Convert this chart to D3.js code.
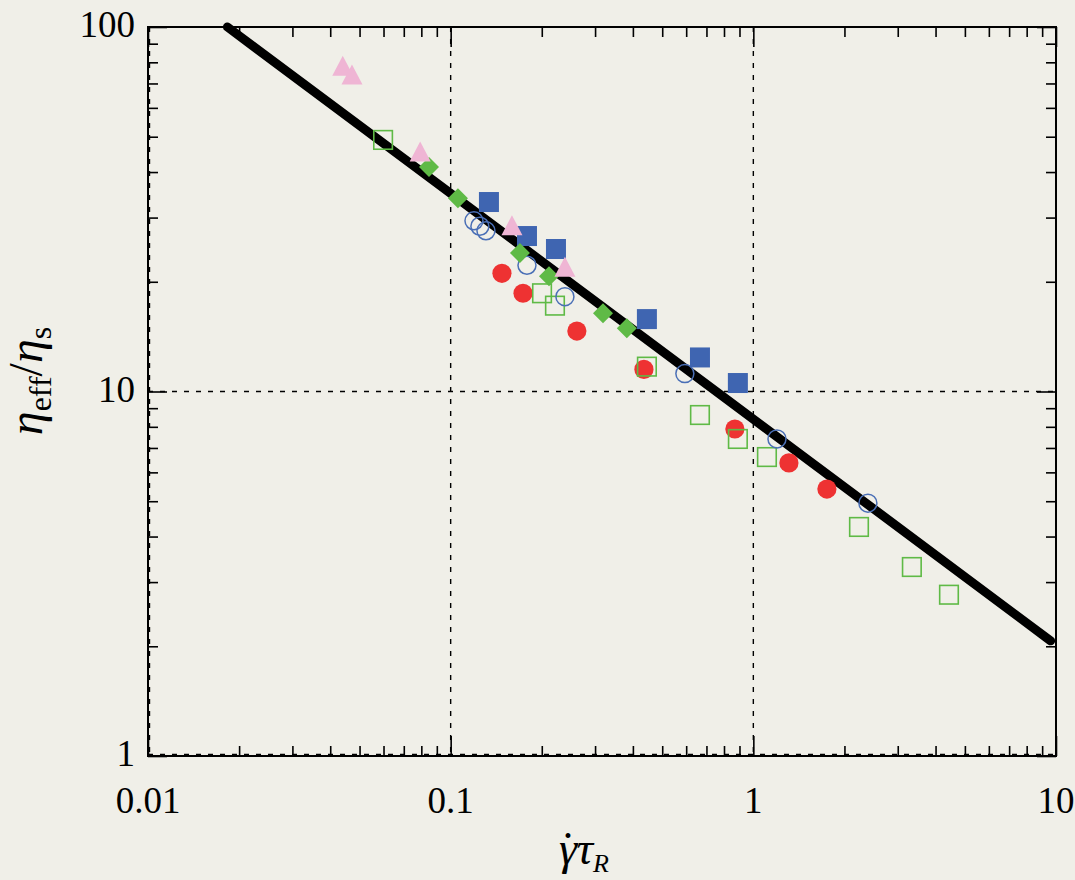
<!DOCTYPE html>
<html>
<head>
<meta charset="utf-8">
<script src="https://cdn.jsdelivr.net/npm/d3@7"></script>
<style>
html,body{margin:0;padding:0;background:#f0efe8;}
svg{display:block;}
text{font-family:"Liberation Serif","Times New Roman",serif;fill:#000;}
</style>
</head>
<body>
<svg id="chart" width="1075" height="880"></svg>
<script>
// ---- data ----
const xTicks = [0.01, 0.1, 1, 10];
const xTickLabels = ["0.01", "0.1", "1", "10"];
const yTicks = [1, 10, 100];
const yTickLabels = ["1", "10", "100"];

const fitX = [0.0183, 9.6];
const fitY = [100, 2.07];

const triX = [0.0440, 0.0472, 0.0793, 0.1594, 0.2385];
const triY = [77.6, 73.4, 45.1, 28.3, 21.8];

const diaX = [0.0848, 0.1057, 0.1694, 0.2113, 0.3186, 0.3820];
const diaY = [41.3, 33.9, 24.0, 20.7, 16.4, 14.9];

const bsqX = [0.1338, 0.1787, 0.2228, 0.445, 0.6663, 0.889];
const bsqY = [33.1, 26.7, 24.6, 15.8, 12.4, 10.55];

const ocX = [0.1194, 0.1249, 0.1308, 0.1787, 0.2385, 0.594, 1.197, 2.391];
const ocY = [29.4, 28.4, 27.6, 22.2, 18.2, 11.2, 7.41, 4.94];

const redX = [0.1477, 0.1734, 0.2612, 0.435, 0.869, 1.311, 1.75];
const redY = [21.1, 18.6, 14.65, 11.5, 7.89, 6.37, 5.40];

const gsqX = [0.0598, 0.2004, 0.2211, 0.445, 0.6663, 0.889, 1.109, 2.234, 3.34, 4.43];
const gsqY = [49.0, 18.6, 17.2, 11.7, 8.62, 7.41, 6.61, 4.25, 3.30, 2.77];

// ---- layout ----
const svg = d3.select("#chart");
const pL = 148, pR = 1056, pT = 27, pB = 756;
const x = d3.scaleLog().domain([0.01, 10]).range([pL, pR]);
const y = d3.scaleLog().domain([1, 100]).range([pB, pT]);

const zip = (a, b) => a.map((v, i) => [v, b[i]]);

svg.append("rect").attr("width", 1075).attr("height", 880).attr("fill", "#f0efe8");

// minor/major tick values
const xMinor = [], yMinor = [];
[0.01, 0.1, 1].forEach(d => { for (let k = 2; k <= 9; k++) xMinor.push(d * k); });
[1, 10].forEach(d => { for (let k = 2; k <= 9; k++) yMinor.push(d * k); });

// grid lines (dashed)
const grid = svg.append("g").attr("stroke", "#000").attr("stroke-width", 1.4).attr("stroke-dasharray", "5,7");
[0.01, 0.1, 1].forEach((v, i) => {
  const px = x(v) + (i === 0 ? 1.5 : 0);
  grid.append("line").attr("x1", px).attr("x2", px).attr("y1", pT).attr("y2", pB);
});
[1, 10].forEach((v, i) => {
  const py = y(v) - (i === 0 ? 1.5 : 0);
  grid.append("line").attr("x1", pL).attr("x2", pR).attr("y1", py).attr("y2", py);
});

// axes ticks (inside, all four sides)
function ax(gen, vals, size, tx, ty) {
  const g = svg.append("g").attr("transform", `translate(${tx},${ty})`)
    .call(gen.tickValues(vals).tickSize(size).tickFormat(""));
  g.select(".domain").remove();
  g.selectAll("line").attr("stroke", "#000").attr("stroke-width", 1.6);
}
ax(d3.axisBottom(x), xMinor, -10, 0, pB);
ax(d3.axisBottom(x), xTicks, -20, 0, pB);
ax(d3.axisTop(x), xMinor, -10, 0, pT);
ax(d3.axisTop(x), xTicks, -20, 0, pT);
ax(d3.axisLeft(y), yMinor, -10, pL, 0);
ax(d3.axisLeft(y), yTicks, -19, pL, 0);
ax(d3.axisRight(y), yMinor, -10, pR, 0);
ax(d3.axisRight(y), yTicks, -19, pR, 0);

// frame
svg.append("rect").attr("x", pL).attr("y", pT).attr("width", pR - pL).attr("height", pB - pT)
  .attr("fill", "none").attr("stroke", "#000").attr("stroke-width", 2);

// tick labels
svg.append("g").selectAll("text").data(xTicks).join("text")
  .attr("x", d => x(d)).attr("y", 813).attr("text-anchor", "middle")
  .attr("font-size", 37).text((d, i) => xTickLabels[i]);
svg.append("g").selectAll("text").data(yTicks).join("text")
  .attr("x", 135).attr("y", d => y(d) + 10).attr("text-anchor", "end")
  .attr("font-size", 37).text((d, i) => yTickLabels[i]);

// fit line
svg.append("path").datum(zip(fitX, fitY))
  .attr("d", d3.line().x(d => x(d[0])).y(d => y(d[1])))
  .attr("fill", "none").attr("stroke", "#000").attr("stroke-width", 9).attr("stroke-linecap", "round");

// markers
const red = "#ee3232", green = "#5fba46", blue = "#3f65b1", pink = "#efb5d4";

svg.append("g").selectAll("circle").data(zip(redX, redY)).join("circle")
  .attr("cx", d => x(d[0])).attr("cy", d => y(d[1])).attr("r", 9.6).attr("fill", red);

svg.append("g").selectAll("rect").data(zip(gsqX, gsqY)).join("rect")
  .attr("x", d => x(d[0]) - 9.3).attr("y", d => y(d[1]) - 9.3).attr("width", 18.6).attr("height", 18.6)
  .attr("fill", "none").attr("stroke", green).attr("stroke-width", 1.6);

svg.append("g").selectAll("circle").data(zip(ocX, ocY)).join("circle")
  .attr("cx", d => x(d[0])).attr("cy", d => y(d[1])).attr("r", 9)
  .attr("fill", "none").attr("stroke", "#4a6fb6").attr("stroke-width", 1.5);

svg.append("g").selectAll("rect").data(zip(bsqX, bsqY)).join("rect")
  .attr("x", d => x(d[0]) - 10).attr("y", d => y(d[1]) - 10).attr("width", 20).attr("height", 20)
  .attr("fill", blue);

svg.append("g").selectAll("path").data(zip(diaX, diaY)).join("path")
  .attr("transform", d => `translate(${x(d[0])},${y(d[1])})`)
  .attr("d", "M0,-10L10,0L0,10L-10,0Z").attr("fill", green);

svg.append("g").selectAll("path").data(zip(triX, triY)).join("path")
  .attr("transform", d => `translate(${x(d[0])},${y(d[1])})`)
  .attr("d", "M0,-11.5L10.5,8.5L-10.5,8.5Z").attr("fill", pink);

// axis titles
const yl = svg.append("text").attr("transform", "translate(42,381) rotate(-90)")
  .attr("text-anchor", "middle").attr("font-size", 48);
yl.append("tspan").attr("font-style", "italic").text("η");
yl.append("tspan").attr("font-size", 32).attr("dy", 9).text("eff");
yl.append("tspan").attr("dy", -9).text("/");
yl.append("tspan").attr("font-style", "italic").text("η");
yl.append("tspan").attr("font-size", 32).attr("dy", 9).text("s");

const xl = svg.append("text").attr("x", 584).attr("y", 864).attr("text-anchor", "middle")
  .attr("font-size", 46).attr("font-style", "italic");
xl.append("tspan").text("\u03B3");
xl.append("tspan").attr("font-style", "normal").attr("dx", -17).text("\u02D9");
xl.append("tspan").attr("dx", 1).text("\u03C4");
xl.append("tspan").attr("font-size", 26).attr("dy", 8).text("R");
</script>
</body>
</html>
